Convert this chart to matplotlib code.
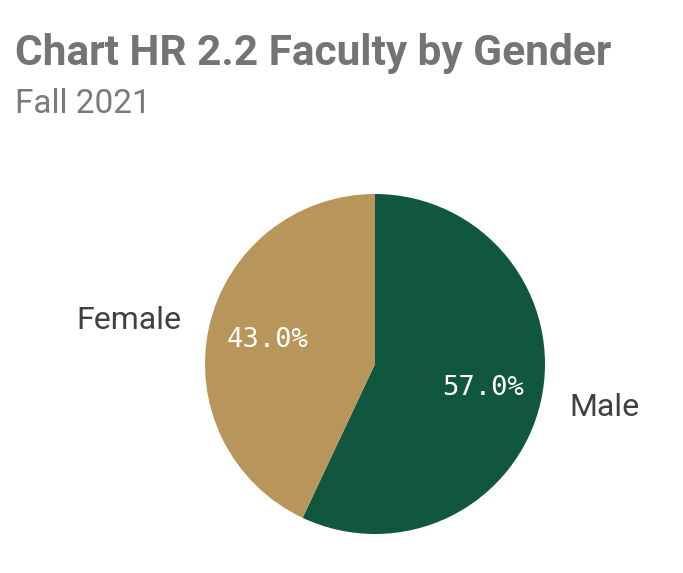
import matplotlib.pyplot as plt

labels = ['Male', 'Female']
shares = [57.0, 43.0]
colors = ['#115740', '#B8955A']

W, H = 683, 573
fig = plt.figure(figsize=(W / 100, H / 100), dpi=100)

# pie centre ~ (375, 364) px, radius ~170 px
cx, cy, r = 375, 364, 170
ax = fig.add_axes([(cx - r) / W, (H - cy - r) / H, 2 * r / W, 2 * r / H])

wedges, texts, autotexts = ax.pie(
    shares, labels=labels, colors=colors, startangle=90, counterclock=False,
    autopct='%.1f%%', pctdistance=0.65, labeldistance=1.17, radius=1,
    textprops={'fontsize': 23, 'color': '#404040', 'family': 'Roboto'},
)
for t in autotexts:
    t.set_color('white')
    t.set_fontsize(19.5)
    t.set_family('DejaVu Sans Mono')
ax.set_xlim(-1, 1)
ax.set_ylim(-1, 1)

fig.text(15 / W, 1 - 65 / H, 'Chart HR 2.2 Faculty by Gender', fontsize=30.5,
         fontweight='bold', color='#747474', family='Roboto', va='baseline')
fig.text(15 / W, 1 - 113 / H, 'Fall 2021', fontsize=24, color='#7a7a7a',
         family='Roboto', va='baseline')

fig.savefig('out.png', dpi=100)
